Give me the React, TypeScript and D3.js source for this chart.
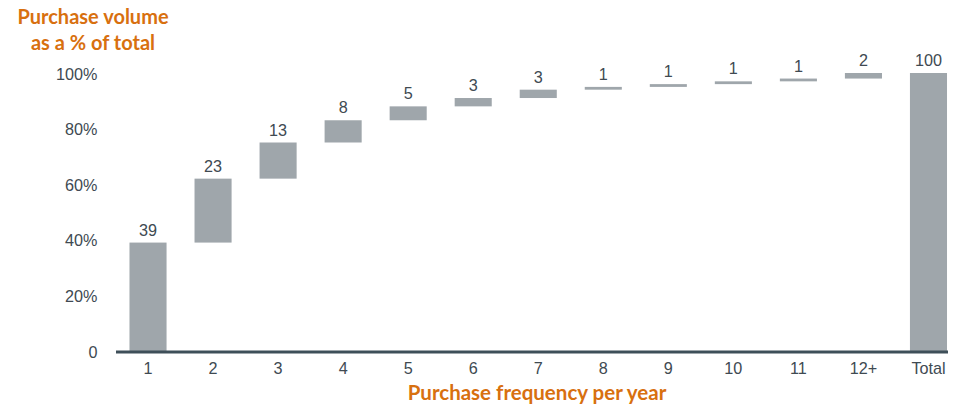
import React from "react";
import * as d3 from "d3";

const categories = ["1", "2", "3", "4", "5", "6", "7", "8", "9", "10", "11", "12+", "Total"];
const increments = [39, 23, 13, 8, 5, 3, 3, 1, 1, 1, 1, 2];
const totalValue = 100;
const yTicks = [0, 20, 40, 60, 80, 100];

const W = 957;
const H = 408;
const BAR = "#9fa6ab";
const AXIS = "#3e4f59";
const TEXT = "#404a52";
const ORANGE = "#d8700f";

export default function App() {
  const x = d3
    .scaleBand<string>()
    .domain(categories)
    .range([115.5, 961])
    .paddingInner(0.43)
    .paddingOuter(0.215);
  const y = d3.scaleLinear().domain([0, 100]).range([351, 73]);

  let running = 0;
  const bars = categories.map((c, i) => {
    if (i < increments.length) {
      const start = running;
      running += increments[i];
      return { c, start, end: running, value: increments[i] };
    }
    return { c, start: 0, end: totalValue, value: totalValue };
  });

  const font = "'Liberation Sans', Arial, sans-serif";
  const titleFont = "Lato, 'Open Sans', sans-serif";
  const fs = 16.2;

  return (
    <svg width={W} height={H} style={{ position: "absolute", left: 0, top: 0 }}>
      <rect width={W} height={H} fill="#fff" />
      <text x={93} y={24} textAnchor="middle" fontFamily={titleFont} fontWeight={700} fontSize={20} fill={ORANGE}>
        Purchase volume
      </text>
      <text x={93} y={50} textAnchor="middle" fontFamily={titleFont} fontWeight={700} fontSize={20} fill={ORANGE}>
        as a % of total
      </text>
      {yTicks.map((t) => (
        <text key={t} x={97.5} y={y(t) + 6.5} textAnchor="end" fontFamily={font} fontSize={fs} fill={TEXT}>
          {t === 0 ? "0" : `${t}%`}
        </text>
      ))}
      {bars.map((b) => {
        const x0 = x(b.c)!;
        const top = y(b.end);
        const bottom = y(b.start);
        return (
          <g key={b.c}>
            <rect x={x0} y={top} width={x.bandwidth()} height={Math.max(bottom - top, 0)} fill={BAR} />
            <text
              x={x0 + x.bandwidth() / 2}
              y={top - 7}
              textAnchor="middle"
              fontFamily={font}
              fontSize={fs}
              fill={TEXT}
            >
              {b.value}
            </text>
          </g>
        );
      })}
      <line x1={116} x2={948} y1={352} y2={352} stroke={AXIS} strokeWidth={3} />
      {categories.map((c) => (
        <text
          key={c}
          x={x(c)! + x.bandwidth() / 2}
          y={374}
          textAnchor="middle"
          fontFamily={font}
          fontSize={fs}
          fill={TEXT}
        >
          {c}
        </text>
      ))}
      <text x={537} y={400} textAnchor="middle" fontFamily={titleFont} fontWeight={700} fontSize={20.5} fill={ORANGE}>
        Purchase frequency per year
      </text>
    </svg>
  );
}
